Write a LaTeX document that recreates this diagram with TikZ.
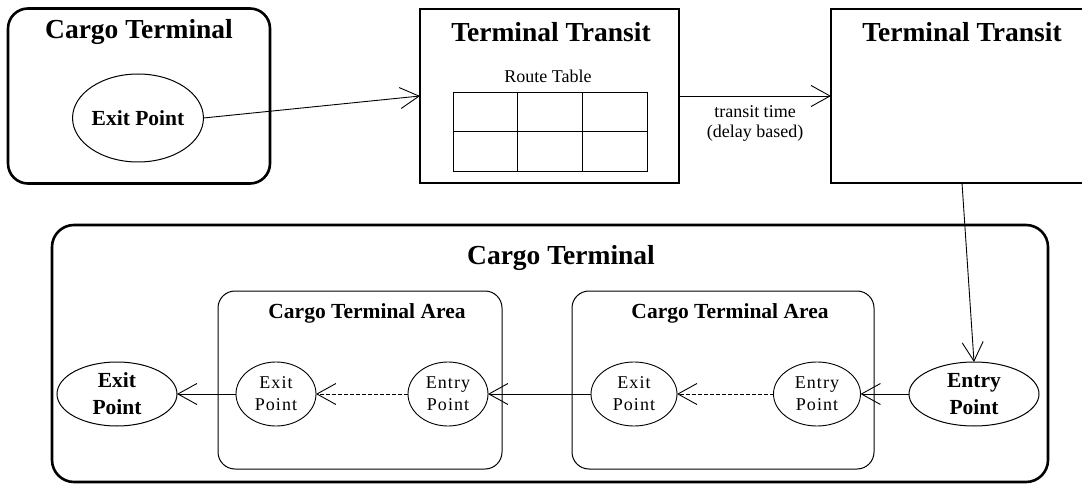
\documentclass[tikz,border=0pt]{standalone}
\usepackage{fontspec}
\setmainfont{Liberation Serif}
\newfontfamily\spacedfont[LetterSpace=6]{Liberation Serif}
\usetikzlibrary{shapes.geometric,arrows.meta,calc}
\begin{document}
\begin{tikzpicture}[x=1pt,y=-1pt,
  heavybox/.style={draw, line width=2.6pt, outer sep=0pt, inner sep=0pt},
  areabox/.style={draw, line width=1pt, rounded corners=17pt, outer sep=0pt, inner sep=0pt},
  bigtitle/.style={font=\fontsize{27.5}{30}\selectfont\bfseries, inner sep=0pt},
  areatitle/.style={font=\fontsize{21.5}{25}\selectfont\bfseries, inner sep=0pt},
  boldpt/.style={ellipse, draw, line width=1pt, inner sep=0pt, outer sep=0pt, align=center, font=\fontsize{21.5}{27}\selectfont\bfseries},
  smallpt/.style={ellipse, draw, line width=0.9pt, inner sep=0pt, outer sep=0pt, align=center, minimum height=64pt, font=\fontsize{18}{22}\selectfont\spacedfont},
  flow/.style={draw, line width=0.9pt, -{Straight Barb[length=19pt,width=21pt,line width=0.9pt]}},
  plaintext/.style={font=\fontsize{18}{20}\selectfont, inner sep=0pt, align=center},
]
\useasboundingbox (0,0) rectangle (1082,484);
\clip (0,0) rectangle (1082,484);
\fill[white] (0,0) rectangle (1082,484);

% top-left cargo terminal
\node[heavybox, rounded corners=20pt, minimum width=262pt, minimum height=175pt] (ct1) at (139,96) {};
\node[bigtitle] (ct1t) at (139,32) {Cargo Terminal};
\node[boldpt, minimum width=130pt, minimum height=88pt] (ex1) at (138,118) {Exit Point};

% terminal transit 1
\node[heavybox, minimum width=259pt, minimum height=174pt] (tt1) at (549.5,96) {};
\node[bigtitle] (tt1t) at (551,32) {Terminal Transit};
\node[plaintext] (rtt) at (548,76) {Route Table};
\node[draw, line width=0.9pt, inner sep=0pt, outer sep=0pt, minimum width=194pt, minimum height=79pt] (rt) at (550,131.5) {};
\draw[line width=0.9pt] ($(rt.north west)!1/3!(rt.north east)$) -- ($(rt.south west)!1/3!(rt.south east)$);
\draw[line width=0.9pt] ($(rt.north west)!2/3!(rt.north east)$) -- ($(rt.south west)!2/3!(rt.south east)$);
\draw[line width=0.9pt] (rt.west) -- (rt.east);

% terminal transit 2
\node[heavybox, minimum width=262pt, minimum height=174pt] (tt2) at (962,96) {};
\node[bigtitle] (tt2t) at (962,32) {Terminal Transit};

\node[plaintext] (tl) at (755,123) {transit time\\(delay based)};

% big cargo terminal
\node[heavybox, rounded corners=22pt, minimum width=996pt, minimum height=257pt] (ct2) at (550,353.5) {};
\node[bigtitle] (ct2t) at (561,258) {Cargo Terminal};

\node[areabox, minimum width=284pt, minimum height=178pt] (a1) at (360,380) {};
\node[areatitle] (a1t) at (367,313) {Cargo Terminal Area};
\node[areabox, minimum width=302pt, minimum height=178pt] (a2) at (723,380) {};
\node[areatitle] (a2t) at (730,313) {Cargo Terminal Area};

\node[boldpt, minimum width=120pt, minimum height=64pt] (exB) at (117,394) {Exit\\Point};
\node[smallpt, minimum width=80pt] (ex1s) at (276,394) {Exit\\Point};
\node[smallpt, minimum width=80pt] (en1) at (448,394) {Entry\\Point};
\node[smallpt, minimum width=86pt] (ex2) at (634,394) {Exit\\Point};
\node[smallpt, minimum width=87pt] (en2) at (817,394) {Entry\\Point};
\node[boldpt, minimum width=130pt, minimum height=64pt] (enB) at (974,394) {Entry\\Point};

% connectors
\draw[flow] (ex1.east) -- (tt1.west);
\draw[flow] (tt1.east) -- (tt2.west);
\draw[flow] (tt2.south) -- (enB.north);
\draw[flow] (enB.west) -- (en2.east);
\draw[flow, dash pattern=on 4pt off 2pt] (en2.west) -- (ex2.east);
\draw[flow] (ex2.west) -- (en1.east);
\draw[flow, dash pattern=on 4pt off 2pt] (en1.west) -- (ex1s.east);
\draw[flow] (ex1s.west) -- (exB.east);
\end{tikzpicture}
\end{document}
